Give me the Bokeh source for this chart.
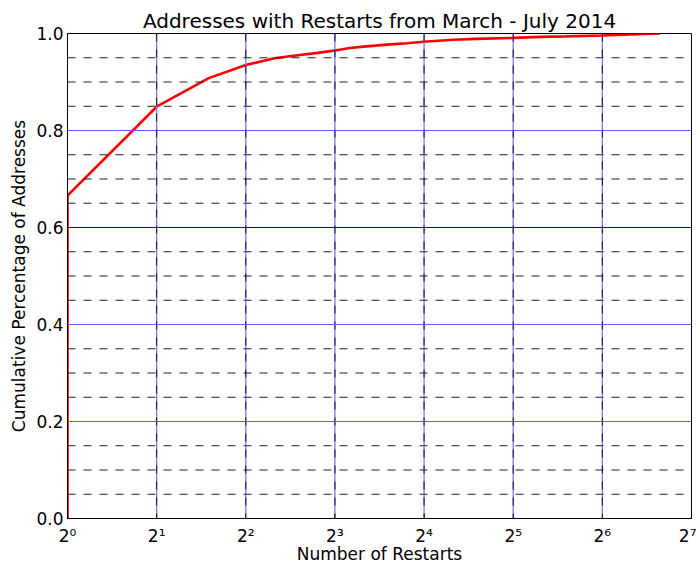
from bokeh.plotting import figure
from bokeh.models import FixedTicker, Span
from bokeh.embed import file_html
from bokeh.resources import INLINE

# data
restarts = [1, 1, 2, 3, 4, 5, 6, 7, 8, 9, 10, 12, 14, 16, 20, 24, 32, 40, 48, 64, 80, 100]
cum_pct = [0.0, 0.666, 0.849, 0.908, 0.935, 0.949, 0.955, 0.960, 0.965, 0.970, 0.973,
           0.977, 0.980, 0.983, 0.987, 0.989, 0.991, 0.993, 0.994, 0.996, 0.998, 1.0]

x_tick_exps = [0, 1, 2, 3, 4, 5, 6, 7]
x_tick_labels = ["2\u2070", "2\u00b9", "2\u00b2", "2\u00b3", "2\u2074", "2\u2075", "2\u2076", "2\u2077"]
y_major = [0.0, 0.2, 0.4, 0.6, 0.8, 1.0]
y_major_labels = ["0.0", "0.2", "0.4", "0.6", "0.8", "1.0"]
y_minor = [0.05, 0.10, 0.15, 0.25, 0.30, 0.35, 0.45, 0.50, 0.55,
           0.65, 0.70, 0.75, 0.85, 0.90, 0.95]

title_text = "Addresses with Restarts from March - July 2014"
x_label = "Number of Restarts"
y_label = "Cumulative Percentage of Addresses"

FONT = "DejaVu Sans"

p = figure(width=696, height=566, x_axis_type="log", x_range=(1, 128), y_range=(0, 1),
           output_backend="svg", toolbar_location=None, title=title_text,
           min_border_left=67, min_border_right=5, min_border_top=33, min_border_bottom=48)
p.background_fill_color = "white"
p.border_fill_color = "white"
p.outline_line_color = "black"
p.outline_line_width = 1
p.xgrid.visible = False
p.ygrid.visible = False

p.title.align = "center"
p.title.text_font = FONT
p.title.text_font_size = "20px"
p.title.text_font_style = "normal"
p.title.text_color = "black"
p.title.standoff = 1

x_ticks = [2 ** e for e in x_tick_exps]

# vertical grid: blue solid with black dashes over
for xt in x_ticks[1:-1]:
    p.add_layout(Span(location=xt, dimension="height", line_color="#7a7aff", line_width=1.3))
    p.add_layout(Span(location=xt, dimension="height", line_color="#111111",
                      line_width=1, line_dash="8 8"))
# horizontal minor grid
for yv in y_minor:
    p.add_layout(Span(location=yv, dimension="width", line_color="#222222",
                      line_width=1, line_dash="8 8"))
# horizontal major grid
for yv in y_major[1:-1]:
    col = "#0000c0" if abs(yv - 0.6) < 1e-9 else "#5c5cff"
    p.add_layout(Span(location=yv, dimension="width", line_color=col, line_width=1.2))

p.line(restarts, cum_pct, line_color="#ff0000", line_width=2.6)

# axes
p.xaxis.ticker = FixedTicker(ticks=x_ticks, minor_ticks=[])
p.xaxis.major_label_overrides = {xt: lab for xt, lab in zip(x_ticks, x_tick_labels)}
p.yaxis.ticker = FixedTicker(ticks=y_major, minor_ticks=[])
p.yaxis.major_label_overrides = {yv: lab for yv, lab in zip(y_major, y_major_labels)}
for ax in (p.xaxis, p.yaxis):
    ax.axis_line_color = "black"
    ax.major_tick_in = 5
    ax.major_tick_out = 0
    ax.minor_tick_line_color = None
    ax.major_label_text_font = FONT
    ax.major_label_text_font_size = "17px"
    ax.major_label_text_color = "black"
    ax.axis_label_text_font = FONT
    ax.axis_label_text_font_size = "17px"
    ax.axis_label_text_font_style = "normal"
    ax.axis_label_text_color = "black"
p.xaxis.major_label_standoff = 7
p.yaxis.major_label_standoff = 4
p.xaxis.axis_label = x_label
p.xaxis.axis_label_standoff = -5
p.yaxis.axis_label = y_label
p.yaxis.axis_label_standoff = 4

open("out.html", "w").write(file_html(p, INLINE))
